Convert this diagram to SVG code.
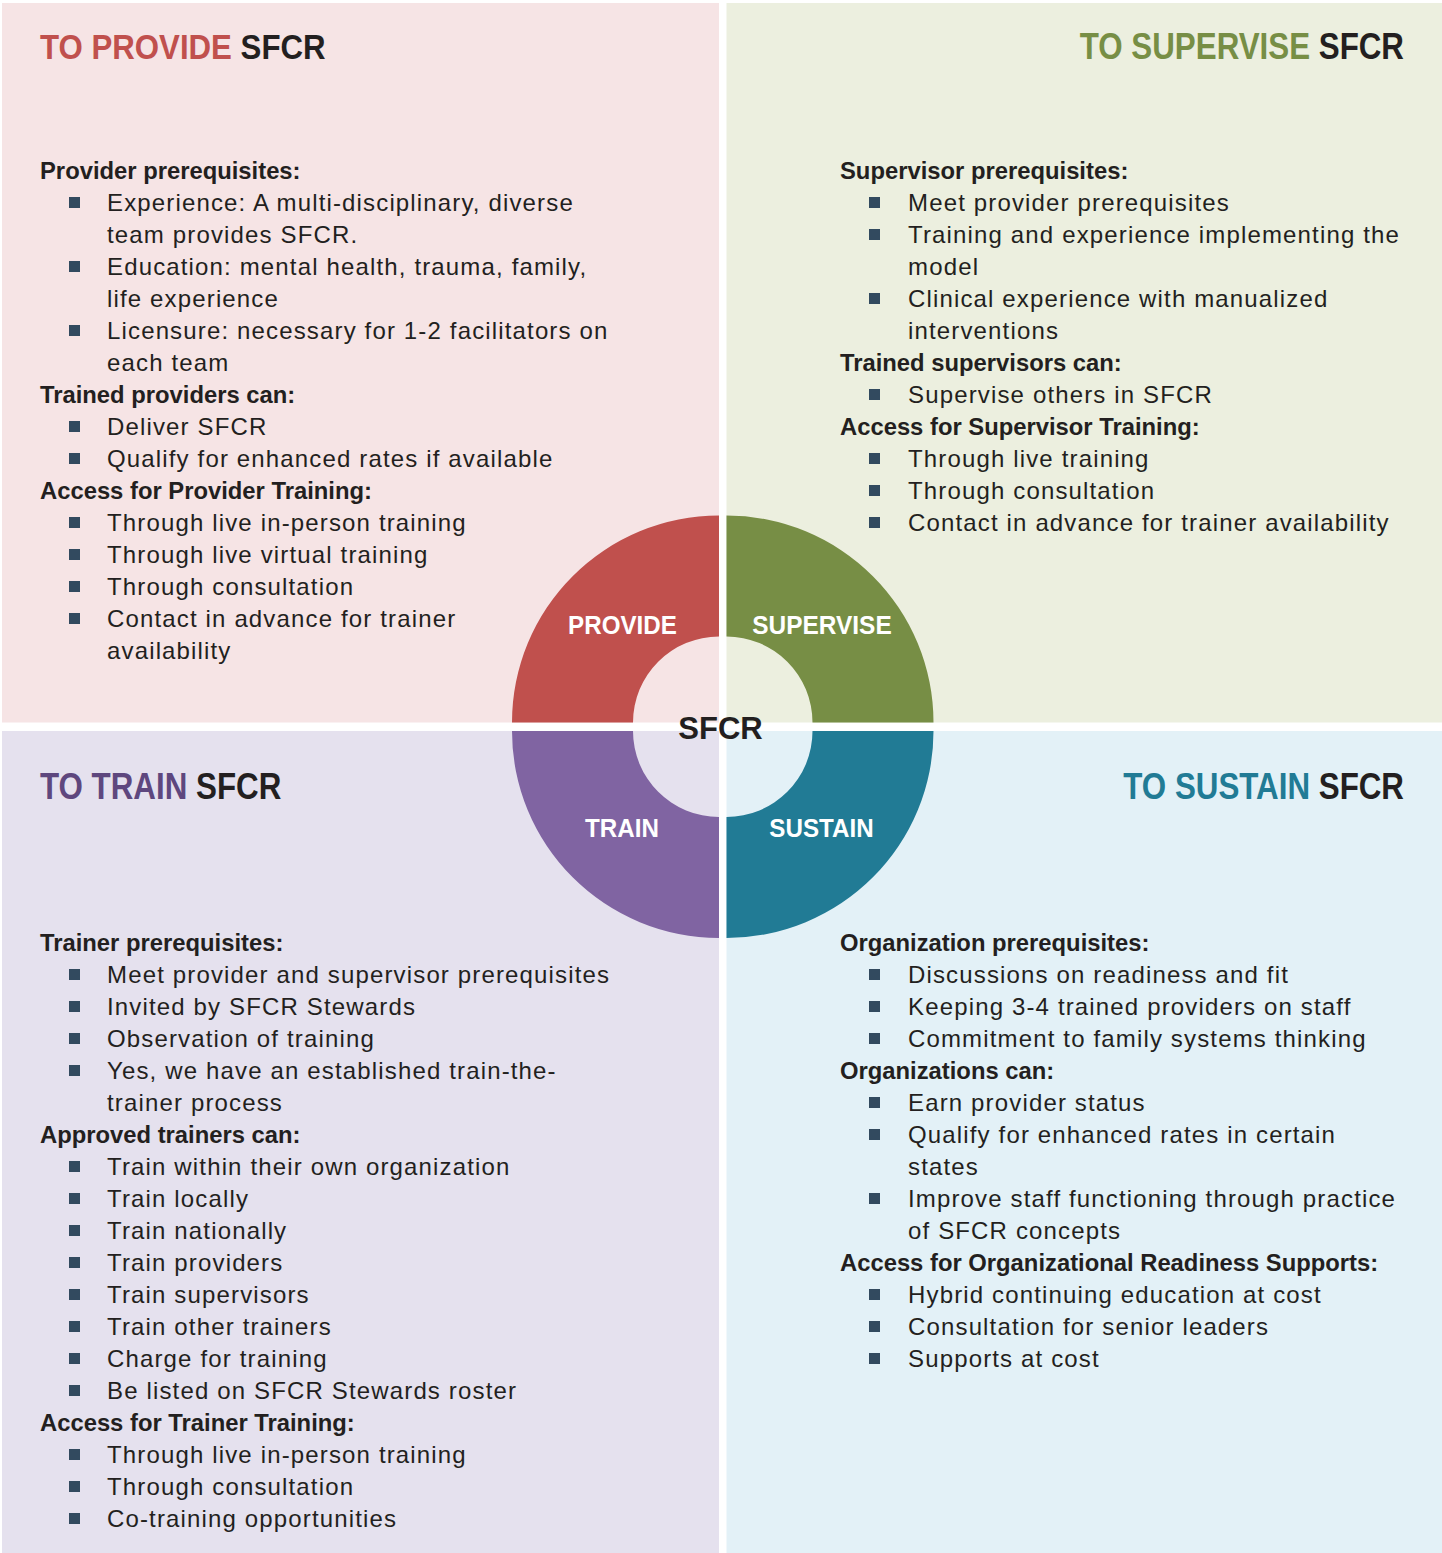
<svg xmlns="http://www.w3.org/2000/svg" width="1442" height="1553" viewBox="0 0 1442 1553">
  <style>
    .title { font-family: "Liberation Sans", Arial, sans-serif; font-weight: bold; font-size: 36px; fill: #231F20; }
    .end { text-anchor: end; }
    .hd { font-family: "Liberation Sans", Arial, sans-serif; font-weight: bold; font-size: 23.8px; fill: #231F20; }
    .tx { font-family: "Liberation Sans", Arial, sans-serif; font-size: 24px; letter-spacing: 1.15px; fill: #231F20; }
    .ring { font-family: "Liberation Sans", Arial, sans-serif; font-weight: bold; font-size: 26px; fill: #FFFFFF; text-anchor: middle; }
    .core { font-family: "Liberation Sans", Arial, sans-serif; font-weight: bold; font-size: 32px; fill: #231F20; text-anchor: middle; }
    .sq { fill: #324A5F; }
  </style>
  <defs>
    <rect id="bullet" width="11" height="11" class="sq"/>
  </defs>

  <rect x="0" y="0" width="1442" height="1553" fill="#FFFFFF"/>

  <!-- quadrant panels -->
  <g id="panels">
    <rect x="2" y="3" width="717" height="719.5" fill="#F6E4E5"/>
    <rect x="726.5" y="3" width="715.5" height="719.5" fill="#ECEFDF"/>
    <rect x="2" y="731" width="717" height="822" fill="#E5E1EE"/>
    <rect x="726.5" y="731" width="715.5" height="822" fill="#E3F1F7"/>
  </g>

  <!-- central ring, one sector per quadrant -->
  <g id="ring">
    <g id="sector-provide">
      <path d="M512,722.5 A207,207 0 0 1 719,515.5 L719,636.5 A86,86 0 0 0 633,722.5 Z" fill="#C0504D"/>
      <text class="ring" transform="translate(622.5,634) scale(0.93,1)">PROVIDE</text>
    </g>
    <g id="sector-supervise">
      <path d="M726.5,515.5 A207,207 0 0 1 933.5,722.5 L812.5,722.5 A86,86 0 0 0 726.5,636.5 Z" fill="#778E45"/>
      <text class="ring" transform="translate(822,634) scale(0.94,1)">SUPERVISE</text>
    </g>
    <g id="sector-train">
      <path d="M512,731 A207,207 0 0 0 719,938 L719,817 A86,86 0 0 1 633,731 Z" fill="#8064A2"/>
      <text class="ring" transform="translate(622,837) scale(0.93,1)">TRAIN</text>
    </g>
    <g id="sector-sustain">
      <path d="M726.5,938 A207,207 0 0 0 933.5,731 L812.5,731 A86,86 0 0 1 726.5,817 Z" fill="#217B95"/>
      <text class="ring" transform="translate(821.5,837) scale(0.93,1)">SUSTAIN</text>
    </g>
    <text class="core" transform="translate(720.5,739) scale(0.97,1)">SFCR</text>
  </g>

  <!-- connectors: none in this layout -->
  <g id="connectors"/>

  <!-- TO PROVIDE -->
  <g id="provide">
    <text class="title" transform="translate(40,59) scale(0.867,1)"><tspan style="fill:#C0504D">TO PROVIDE</tspan> SFCR</text>
    <text class="hd" x="40" y="179">Provider prerequisites:</text>
    <use href="#bullet" x="69" y="197"/>
    <text class="tx" x="107" y="211">Experience: A multi-disciplinary, diverse</text>
    <text class="tx" x="107" y="243">team provides SFCR.</text>
    <use href="#bullet" x="69" y="261"/>
    <text class="tx" x="107" y="275">Education: mental health, trauma, family,</text>
    <text class="tx" x="107" y="307">life experience</text>
    <use href="#bullet" x="69" y="325"/>
    <text class="tx" x="107" y="339">Licensure: necessary for 1-2 facilitators on</text>
    <text class="tx" x="107" y="371">each team</text>
    <text class="hd" x="40" y="403">Trained providers can:</text>
    <use href="#bullet" x="69" y="421"/>
    <text class="tx" x="107" y="435">Deliver SFCR</text>
    <use href="#bullet" x="69" y="453"/>
    <text class="tx" x="107" y="467">Qualify for enhanced rates if available</text>
    <text class="hd" x="40" y="499">Access for Provider Training:</text>
    <use href="#bullet" x="69" y="517"/>
    <text class="tx" x="107" y="531">Through live in-person training</text>
    <use href="#bullet" x="69" y="549"/>
    <text class="tx" x="107" y="563">Through live virtual training</text>
    <use href="#bullet" x="69" y="581"/>
    <text class="tx" x="107" y="595">Through consultation</text>
    <use href="#bullet" x="69" y="613"/>
    <text class="tx" x="107" y="627">Contact in advance for trainer</text>
    <text class="tx" x="107" y="659">availability</text>
  </g>

  <!-- TO SUPERVISE -->
  <g id="supervise">
    <text class="title end" transform="translate(1404,59) scale(0.87,1)"><tspan style="fill:#778E45">TO SUPERVISE</tspan> SFCR</text>
    <text class="hd" x="840" y="179">Supervisor prerequisites:</text>
    <use href="#bullet" x="869" y="197"/>
    <text class="tx" x="908" y="211">Meet provider prerequisites</text>
    <use href="#bullet" x="869" y="229"/>
    <text class="tx" x="908" y="243">Training and experience implementing the</text>
    <text class="tx" x="908" y="275">model</text>
    <use href="#bullet" x="869" y="293"/>
    <text class="tx" x="908" y="307">Clinical experience with manualized</text>
    <text class="tx" x="908" y="339">interventions</text>
    <text class="hd" x="840" y="371">Trained supervisors can:</text>
    <use href="#bullet" x="869" y="389"/>
    <text class="tx" x="908" y="403">Supervise others in SFCR</text>
    <text class="hd" x="840" y="435">Access for Supervisor Training:</text>
    <use href="#bullet" x="869" y="453"/>
    <text class="tx" x="908" y="467">Through live training</text>
    <use href="#bullet" x="869" y="485"/>
    <text class="tx" x="908" y="499">Through consultation</text>
    <use href="#bullet" x="869" y="517"/>
    <text class="tx" x="908" y="531">Contact in advance for trainer availability</text>
  </g>

  <!-- TO TRAIN -->
  <g id="train">
    <text class="title" transform="translate(40,799) scale(0.87,1)"><tspan style="fill:#5E477E">TO TRAIN</tspan> SFCR</text>
    <text class="hd" x="40" y="951">Trainer prerequisites:</text>
    <use href="#bullet" x="69" y="969"/>
    <text class="tx" x="107" y="983">Meet provider and supervisor prerequisites</text>
    <use href="#bullet" x="69" y="1001"/>
    <text class="tx" x="107" y="1015">Invited by SFCR Stewards</text>
    <use href="#bullet" x="69" y="1033"/>
    <text class="tx" x="107" y="1047">Observation of training</text>
    <use href="#bullet" x="69" y="1065"/>
    <text class="tx" x="107" y="1079">Yes, we have an established train-the-</text>
    <text class="tx" x="107" y="1111">trainer process</text>
    <text class="hd" x="40" y="1143">Approved trainers can:</text>
    <use href="#bullet" x="69" y="1161"/>
    <text class="tx" x="107" y="1175">Train within their own organization</text>
    <use href="#bullet" x="69" y="1193"/>
    <text class="tx" x="107" y="1207">Train locally</text>
    <use href="#bullet" x="69" y="1225"/>
    <text class="tx" x="107" y="1239">Train nationally</text>
    <use href="#bullet" x="69" y="1257"/>
    <text class="tx" x="107" y="1271">Train providers</text>
    <use href="#bullet" x="69" y="1289"/>
    <text class="tx" x="107" y="1303">Train supervisors</text>
    <use href="#bullet" x="69" y="1321"/>
    <text class="tx" x="107" y="1335">Train other trainers</text>
    <use href="#bullet" x="69" y="1353"/>
    <text class="tx" x="107" y="1367">Charge for training</text>
    <use href="#bullet" x="69" y="1385"/>
    <text class="tx" x="107" y="1399">Be listed on SFCR Stewards roster</text>
    <text class="hd" x="40" y="1431">Access for Trainer Training:</text>
    <use href="#bullet" x="69" y="1449"/>
    <text class="tx" x="107" y="1463">Through live in-person training</text>
    <use href="#bullet" x="69" y="1481"/>
    <text class="tx" x="107" y="1495">Through consultation</text>
    <use href="#bullet" x="69" y="1513"/>
    <text class="tx" x="107" y="1527">Co-training opportunities</text>
  </g>

  <!-- TO SUSTAIN -->
  <g id="sustain">
    <text class="title end" transform="translate(1404,799) scale(0.87,1)"><tspan style="fill:#217B95">TO SUSTAIN</tspan> SFCR</text>
    <text class="hd" x="840" y="951">Organization prerequisites:</text>
    <use href="#bullet" x="869" y="969"/>
    <text class="tx" x="908" y="983">Discussions on readiness and fit</text>
    <use href="#bullet" x="869" y="1001"/>
    <text class="tx" x="908" y="1015">Keeping 3-4 trained providers on staff</text>
    <use href="#bullet" x="869" y="1033"/>
    <text class="tx" x="908" y="1047">Commitment to family systems thinking</text>
    <text class="hd" x="840" y="1079">Organizations can:</text>
    <use href="#bullet" x="869" y="1097"/>
    <text class="tx" x="908" y="1111">Earn provider status</text>
    <use href="#bullet" x="869" y="1129"/>
    <text class="tx" x="908" y="1143">Qualify for enhanced rates in certain</text>
    <text class="tx" x="908" y="1175">states</text>
    <use href="#bullet" x="869" y="1193"/>
    <text class="tx" x="908" y="1207">Improve staff functioning through practice</text>
    <text class="tx" x="908" y="1239">of SFCR concepts</text>
    <text class="hd" x="840" y="1271">Access for Organizational Readiness Supports:</text>
    <use href="#bullet" x="869" y="1289"/>
    <text class="tx" x="908" y="1303">Hybrid continuing education at cost</text>
    <use href="#bullet" x="869" y="1321"/>
    <text class="tx" x="908" y="1335">Consultation for senior leaders</text>
    <use href="#bullet" x="869" y="1353"/>
    <text class="tx" x="908" y="1367">Supports at cost</text>
  </g>
</svg>
